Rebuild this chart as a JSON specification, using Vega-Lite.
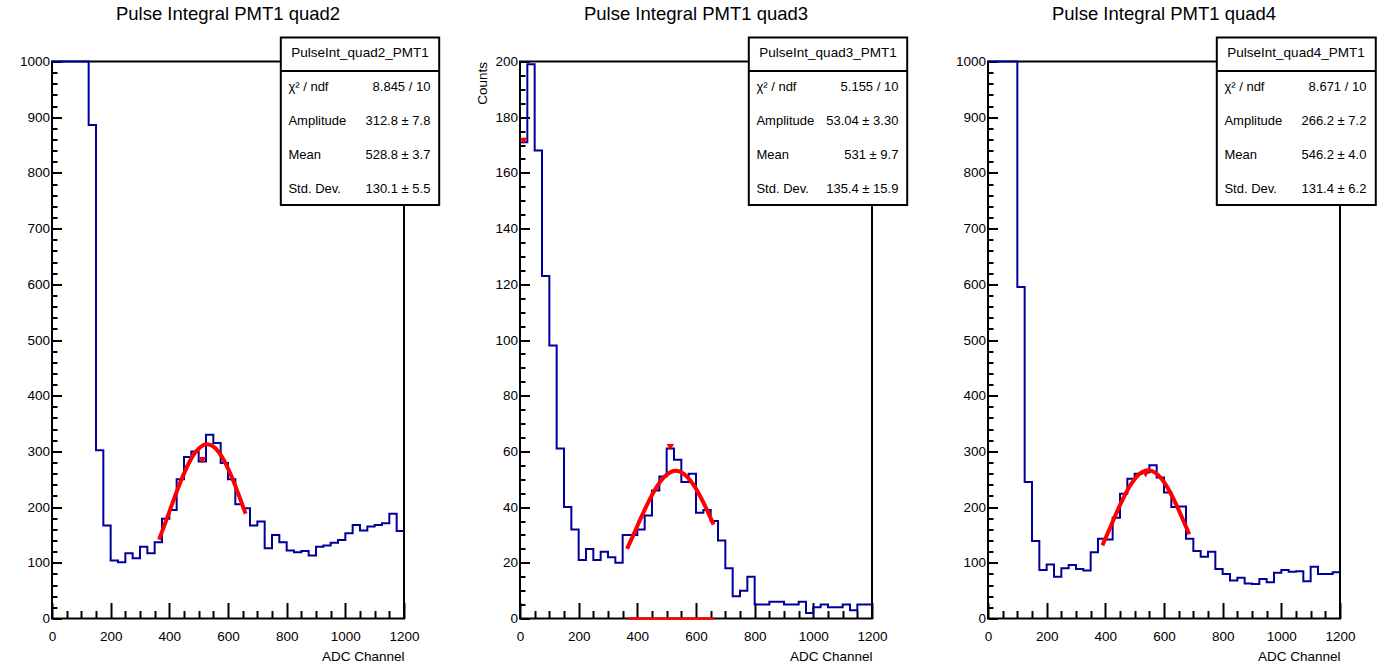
{
  "$schema": "https://vega.github.io/schema/vega-lite/v6.json",
  "background": "white",
  "padding": {"left": 18, "top": 3.5, "right": 4, "bottom": 0},
  "bounds": "flush",
  "spacing": 116,
  "config": {
    "font": "Liberation Sans",
    "view": {"stroke": "black", "strokeWidth": 2},
    "axis": {"domain": false, "grid": false, "labelColor": "black", "labelFont": "Liberation Sans", "labelFontSize": 13.5, "titleColor": "black", "titleFont": "Liberation Sans", "titleFontSize": 13.5, "titleFontWeight": "normal", "tickColor": "black", "tickWidth": 2, "zindex": 1, "labelFlush": false, "labelOverlap": false, "format": "d"},
    "title": {"font": "Liberation Sans", "fontSize": 18.5, "fontWeight": "normal", "color": "black", "baseline": "alphabetic", "offset": 13.3}
  },
  "datasets": {
    "h2": [
      {"lo":0,"hi":25,"n":1000},{"lo":25,"hi":50,"n":1000},{"lo":50,"hi":75,"n":1000},{"lo":75,"hi":100,"n":1000},{"lo":100,"hi":125,"n":1000},{"lo":125,"hi":150,"n":886},{"lo":150,"hi":175,"n":302},{"lo":175,"hi":200,"n":167},{"lo":200,"hi":225,"n":104},{"lo":225,"hi":250,"n":101},{"lo":250,"hi":275,"n":117},{"lo":275,"hi":300,"n":108},{"lo":300,"hi":325,"n":129},{"lo":325,"hi":350,"n":117},{"lo":350,"hi":375,"n":137},{"lo":375,"hi":400,"n":179},{"lo":400,"hi":425,"n":195},{"lo":425,"hi":450,"n":250},{"lo":450,"hi":475,"n":290},{"lo":475,"hi":500,"n":300},{"lo":500,"hi":525,"n":282},{"lo":525,"hi":550,"n":330},{"lo":550,"hi":575,"n":315},{"lo":575,"hi":600,"n":279},{"lo":600,"hi":625,"n":250},{"lo":625,"hi":650,"n":205},{"lo":650,"hi":675,"n":198},{"lo":675,"hi":700,"n":167},{"lo":700,"hi":725,"n":174},{"lo":725,"hi":750,"n":126},{"lo":750,"hi":775,"n":150},{"lo":775,"hi":800,"n":137},{"lo":800,"hi":825,"n":122},{"lo":825,"hi":850,"n":119},{"lo":850,"hi":875,"n":121},{"lo":875,"hi":900,"n":113},{"lo":900,"hi":925,"n":129},{"lo":925,"hi":950,"n":131},{"lo":950,"hi":975,"n":136},{"lo":975,"hi":1000,"n":141},{"lo":1000,"hi":1025,"n":153},{"lo":1025,"hi":1050,"n":168},{"lo":1050,"hi":1075,"n":158},{"lo":1075,"hi":1100,"n":165},{"lo":1100,"hi":1125,"n":168},{"lo":1125,"hi":1150,"n":171},{"lo":1150,"hi":1175,"n":188},{"lo":1175,"hi":1200,"n":157}
    ],
    "h3": [
      {"lo":0,"hi":25,"n":171},{"lo":25,"hi":50,"n":199},{"lo":50,"hi":75,"n":168},{"lo":75,"hi":100,"n":123},{"lo":100,"hi":125,"n":98},{"lo":125,"hi":150,"n":61},{"lo":150,"hi":175,"n":40},{"lo":175,"hi":200,"n":32},{"lo":200,"hi":225,"n":21},{"lo":225,"hi":250,"n":25},{"lo":250,"hi":275,"n":21},{"lo":275,"hi":300,"n":24},{"lo":300,"hi":325,"n":22},{"lo":325,"hi":350,"n":20},{"lo":350,"hi":375,"n":30},{"lo":375,"hi":400,"n":30},{"lo":400,"hi":425,"n":32},{"lo":425,"hi":450,"n":37},{"lo":450,"hi":475,"n":46},{"lo":475,"hi":500,"n":51},{"lo":500,"hi":525,"n":61},{"lo":525,"hi":550,"n":57},{"lo":550,"hi":575,"n":49},{"lo":575,"hi":600,"n":52},{"lo":600,"hi":625,"n":38},{"lo":625,"hi":650,"n":39},{"lo":650,"hi":675,"n":35},{"lo":675,"hi":700,"n":28},{"lo":700,"hi":725,"n":18},{"lo":725,"hi":750,"n":8},{"lo":750,"hi":775,"n":10},{"lo":775,"hi":800,"n":15},{"lo":800,"hi":825,"n":5},{"lo":825,"hi":850,"n":5},{"lo":850,"hi":875,"n":6},{"lo":875,"hi":900,"n":6},{"lo":900,"hi":925,"n":5},{"lo":925,"hi":950,"n":5},{"lo":950,"hi":975,"n":6},{"lo":975,"hi":1000,"n":2},{"lo":1000,"hi":1025,"n":4},{"lo":1025,"hi":1050,"n":5},{"lo":1050,"hi":1075,"n":4},{"lo":1075,"hi":1100,"n":4},{"lo":1100,"hi":1125,"n":5},{"lo":1125,"hi":1150,"n":3},{"lo":1150,"hi":1175,"n":5},{"lo":1175,"hi":1200,"n":5}
    ],
    "h4": [
      {"lo":0,"hi":25,"n":1000},{"lo":25,"hi":50,"n":1000},{"lo":50,"hi":75,"n":1000},{"lo":75,"hi":100,"n":1000},{"lo":100,"hi":125,"n":595},{"lo":125,"hi":150,"n":245},{"lo":150,"hi":175,"n":139},{"lo":175,"hi":200,"n":87},{"lo":200,"hi":225,"n":97},{"lo":225,"hi":250,"n":75},{"lo":250,"hi":275,"n":90},{"lo":275,"hi":300,"n":96},{"lo":300,"hi":325,"n":89},{"lo":325,"hi":350,"n":86},{"lo":350,"hi":375,"n":119},{"lo":375,"hi":400,"n":143},{"lo":400,"hi":425,"n":142},{"lo":425,"hi":450,"n":181},{"lo":450,"hi":475,"n":224},{"lo":475,"hi":500,"n":251},{"lo":500,"hi":525,"n":260},{"lo":525,"hi":550,"n":262},{"lo":550,"hi":575,"n":275},{"lo":575,"hi":600,"n":253},{"lo":600,"hi":625,"n":226},{"lo":625,"hi":650,"n":200},{"lo":650,"hi":675,"n":201},{"lo":675,"hi":700,"n":143},{"lo":700,"hi":725,"n":121},{"lo":725,"hi":750,"n":111},{"lo":750,"hi":775,"n":120},{"lo":775,"hi":800,"n":89},{"lo":800,"hi":825,"n":80},{"lo":825,"hi":850,"n":68},{"lo":850,"hi":875,"n":73},{"lo":875,"hi":900,"n":63},{"lo":900,"hi":925,"n":62},{"lo":925,"hi":950,"n":71},{"lo":950,"hi":975,"n":65},{"lo":975,"hi":1000,"n":82},{"lo":1000,"hi":1025,"n":87},{"lo":1025,"hi":1050,"n":84},{"lo":1050,"hi":1075,"n":85},{"lo":1075,"hi":1100,"n":67},{"lo":1100,"hi":1125,"n":93},{"lo":1125,"hi":1150,"n":80},{"lo":1150,"hi":1175,"n":80},{"lo":1175,"hi":1200,"n":83}
    ],
    "f2": [
      {"x":365,"f":141.6},{"x":390,"f":177.0},{"x":415,"f":213.4},{"x":440,"f":247.8},{"x":465,"f":277.4},{"x":490,"f":299.2},{"x":515,"f":311.0},{"x":529,"f":312.8},{"x":545,"f":310.4},{"x":570,"f":297.5},{"x":595,"f":274.8},{"x":620,"f":244.7},{"x":645,"f":209.9},{"x":660,"f":188.1}
    ],
    "f3": [
      {"x":365,"f":25.02},{"x":390,"f":30.84},{"x":415,"f":36.75},{"x":440,"f":42.32},{"x":465,"f":47.10},{"x":490,"f":50.67},{"x":515,"f":52.67},{"x":531,"f":53.04},{"x":545,"f":52.76},{"x":570,"f":50.88},{"x":595,"f":47.44},{"x":620,"f":42.73},{"x":645,"f":37.21},{"x":660,"f":33.69}
    ],
    "f4": [
      {"x":390,"f":131.3},{"x":415,"f":161.7},{"x":440,"f":192.0},{"x":465,"f":219.9},{"x":490,"f":242.9},{"x":515,"f":258.8},{"x":546,"f":266.2},{"x":570,"f":261.9},{"x":595,"f":248.5},{"x":620,"f":227.4},{"x":645,"f":200.7},{"x":670,"f":170.8},{"x":686,"f":151.2}
    ],
    "m2": [{"x":512.5,"y":284}],
    "m3": [{"x":512.5,"y":61.5},{"x":12.5,"y":171.5}],
    "m4": [{"x":537.5,"y":259}],
    "s2": [
      {"k":"Name","v":"PulseInt_quad2_PMT1"},{"k":"χ² / ndf","v":"8.845 / 10"},{"k":"Amplitude","v":"312.8 ± 7.8"},{"k":"Mean","v":"528.8 ± 3.7"},{"k":"Std. Dev.","v":"130.1 ± 5.5"}
    ],
    "s3": [
      {"k":"Name","v":"PulseInt_quad3_PMT1"},{"k":"χ² / ndf","v":"5.155 / 10"},{"k":"Amplitude","v":"53.04 ± 3.30"},{"k":"Mean","v":"531 ± 9.7"},{"k":"Std. Dev.","v":"135.4 ± 15.9"}
    ],
    "s4": [
      {"k":"Name","v":"PulseInt_quad4_PMT1"},{"k":"χ² / ndf","v":"8.671 / 10"},{"k":"Amplitude","v":"266.2 ± 7.2"},{"k":"Mean","v":"546.2 ± 4.0"},{"k":"Std. Dev.","v":"131.4 ± 6.2"}
    ],
    "one": [{}]
  },
  "hconcat": [
    {
      "width": 352, "height": 557,
      "title": {"text": "Pulse Integral PMT1 quad2"},
      "resolve": {"scale": {"y": "independent"}},
      "layer": [
        {
          "resolve": {"axis": {"x": "independent", "y": "independent"}},
          "layer": [
            {
              "data": {"name": "h2"},
              "transform": [{"fold": ["lo", "hi"], "as": ["edge", "xv"]}],
              "mark": {"type": "line", "color": "#000099", "strokeWidth": 2},
              "encoding": {
                "x": {"field": "xv", "type": "quantitative", "scale": {"domain": [0, 1200]}, "axis": {"orient": "bottom", "values": [0, 200, 400, 600, 800, 1000, 1200], "tickSize": -16, "labelPadding": 27, "title": "ADC Channel", "titleAnchor": "end", "titlePadding": 6}},
                "y": {"field": "n", "type": "quantitative", "scale": {"domain": [0, 1000]}, "axis": {"orient": "left", "values": [0, 100, 200, 300, 400, 500, 600, 700, 800, 900, 1000], "tickSize": -9.5, "labelPadding": 12, "title": null}},
                "order": [{"field": "xv", "type": "quantitative"}, {"field": "edge", "type": "ordinal"}]
              }
            },
            {
              "data": {"name": "f2"},
              "mark": {"type": "line", "color": "#ff0000", "strokeWidth": 4, "interpolate": "monotone"},
              "encoding": {
                "x": {"field": "x", "type": "quantitative", "scale": {"domain": [0, 1200]}, "axis": {"orient": "bottom", "values": [50, 100, 150, 250, 300, 350, 450, 500, 550, 650, 700, 750, 850, 900, 950, 1050, 1100, 1150], "tickSize": -8, "labels": false, "title": null}},
                "y": {"field": "f", "type": "quantitative", "scale": {"domain": [0, 1000]}, "axis": {"orient": "left", "values": [20, 40, 60, 80, 120, 140, 160, 180, 220, 240, 260, 280, 320, 340, 360, 380, 420, 440, 460, 480, 520, 540, 560, 580, 620, 640, 660, 680, 720, 740, 760, 780, 820, 840, 860, 880, 920, 940, 960, 980], "tickSize": -5, "labels": false, "title": null}}
              }
            },
            {
              "data": {"name": "m2"},
              "mark": {"type": "point", "shape": "triangle-down", "filled": true, "color": "#ff0000", "size": 55, "opacity": 1},
              "encoding": {
                "x": {"field": "x", "type": "quantitative", "scale": {"domain": [0, 1200]}, "axis": null},
                "y": {"field": "y", "type": "quantitative", "scale": {"domain": [0, 1000]}, "axis": null}
              }
            },
            {
              "data": {"name": "one"},
              "mark": {"type": "rect", "fill": "white", "stroke": "black", "strokeWidth": 2},
              "encoding": {
                "x": {"datum": 780, "type": "quantitative", "scale": {"domain": [0, 1200]}, "axis": null},
                "x2": {"datum": 1320},
                "y": {"datum": 742.5, "type": "quantitative", "scale": {"domain": [0, 1000]}, "axis": null},
                "y2": {"datum": 1043.1}
              }
            },
            {
              "data": {"name": "one"},
              "mark": {"type": "rule", "color": "black", "strokeWidth": 2},
              "encoding": {
                "x": {"datum": 780, "type": "quantitative", "scale": {"domain": [0, 1200]}, "axis": null},
                "x2": {"datum": 1320},
                "y": {"datum": 983.1, "type": "quantitative", "scale": {"domain": [0, 1000]}, "axis": null}
              }
            }
          ]
        },
        {
          "data": {"name": "s2"},
          "layer": [
            {
              "transform": [{"filter": "datum.k !== 'Name'"}],
              "mark": {"type": "text", "align": "left", "baseline": "middle", "fontSize": 13, "color": "black"},
              "encoding": {
                "x": {"datum": 806, "type": "quantitative", "scale": {"domain": [0, 1200]}, "axis": null},
                "y": {"field": "k", "type": "ordinal", "scale": {"type": "point", "domain": ["Name", "χ² / ndf", "Amplitude", "Mean", "Std. Dev."], "range": [-8.4, 127.3], "padding": 0}, "axis": null},
                "text": {"field": "k"}
              }
            },
            {
              "transform": [{"filter": "datum.k !== 'Name'"}],
              "mark": {"type": "text", "align": "right", "baseline": "middle", "fontSize": 13, "color": "black"},
              "encoding": {
                "x": {"datum": 1290, "type": "quantitative", "scale": {"domain": [0, 1200]}, "axis": null},
                "y": {"field": "k", "type": "ordinal", "axis": null},
                "text": {"field": "v"}
              }
            },
            {
              "transform": [{"filter": "datum.k === 'Name'"}],
              "mark": {"type": "text", "align": "center", "baseline": "middle", "fontSize": 13.5, "color": "black"},
              "encoding": {
                "x": {"datum": 1050, "type": "quantitative", "scale": {"domain": [0, 1200]}, "axis": null},
                "y": {"field": "k", "type": "ordinal", "axis": null},
                "text": {"field": "v"}
              }
            }
          ]
        }
      ]
    },
    {
      "width": 352, "height": 557,
      "title": {"text": "Pulse Integral PMT1 quad3"},
      "resolve": {"scale": {"y": "independent"}},
      "layer": [
        {
          "resolve": {"axis": {"x": "independent", "y": "independent"}},
          "layer": [
            {
              "data": {"name": "h3"},
              "transform": [{"fold": ["lo", "hi"], "as": ["edge", "xv"]}],
              "mark": {"type": "line", "color": "#000099", "strokeWidth": 2},
              "encoding": {
                "x": {"field": "xv", "type": "quantitative", "scale": {"domain": [0, 1200]}, "axis": {"orient": "bottom", "values": [0, 200, 400, 600, 800, 1000, 1200], "tickSize": -16, "labelPadding": 27, "title": "ADC Channel", "titleAnchor": "end", "titlePadding": 6}},
                "y": {"field": "n", "type": "quantitative", "scale": {"domain": [0, 200]}, "axis": {"orient": "left", "values": [0, 20, 40, 60, 80, 100, 120, 140, 160, 180, 200], "tickSize": -9.5, "labelPadding": 12, "title": "Counts", "titleAnchor": "end", "titlePadding": 5}},
                "order": [{"field": "xv", "type": "quantitative"}, {"field": "edge", "type": "ordinal"}]
              }
            },
            {
              "data": {"name": "f3"},
              "mark": {"type": "line", "color": "#ff0000", "strokeWidth": 4, "interpolate": "monotone"},
              "encoding": {
                "x": {"field": "x", "type": "quantitative", "scale": {"domain": [0, 1200]}, "axis": {"orient": "bottom", "values": [50, 100, 150, 250, 300, 350, 450, 500, 550, 650, 700, 750, 850, 900, 950, 1050, 1100, 1150], "tickSize": -8, "labels": false, "title": null}},
                "y": {"field": "f", "type": "quantitative", "scale": {"domain": [0, 200]}, "axis": {"orient": "left", "values": [5, 10, 15, 25, 30, 35, 45, 50, 55, 65, 70, 75, 85, 90, 95, 105, 110, 115, 125, 130, 135, 145, 150, 155, 165, 170, 175, 185, 190, 195], "tickSize": -5, "labels": false, "title": null}}
              }
            },
            {
              "data": {"name": "one"},
              "mark": {"type": "rule", "color": "#ff0000", "strokeWidth": 2.5},
              "encoding": {
                "x": {"datum": 369, "type": "quantitative", "scale": {"domain": [0, 1200]}, "axis": null},
                "x2": {"datum": 661},
                "y": {"datum": 0, "type": "quantitative", "scale": {"domain": [0, 200]}, "axis": null}
              }
            },
            {
              "data": {"name": "m3"},
              "mark": {"type": "point", "shape": "triangle-down", "filled": true, "color": "#ff0000", "size": 55, "opacity": 1},
              "encoding": {
                "x": {"field": "x", "type": "quantitative", "scale": {"domain": [0, 1200]}, "axis": null},
                "y": {"field": "y", "type": "quantitative", "scale": {"domain": [0, 200]}, "axis": null}
              }
            },
            {
              "data": {"name": "one"},
              "mark": {"type": "rect", "fill": "white", "stroke": "black", "strokeWidth": 2},
              "encoding": {
                "x": {"datum": 780, "type": "quantitative", "scale": {"domain": [0, 1200]}, "axis": null},
                "x2": {"datum": 1320},
                "y": {"datum": 148.5, "type": "quantitative", "scale": {"domain": [0, 200]}, "axis": null},
                "y2": {"datum": 208.6}
              }
            },
            {
              "data": {"name": "one"},
              "mark": {"type": "rule", "color": "black", "strokeWidth": 2},
              "encoding": {
                "x": {"datum": 780, "type": "quantitative", "scale": {"domain": [0, 1200]}, "axis": null},
                "x2": {"datum": 1320},
                "y": {"datum": 196.6, "type": "quantitative", "scale": {"domain": [0, 200]}, "axis": null}
              }
            }
          ]
        },
        {
          "data": {"name": "s3"},
          "layer": [
            {
              "transform": [{"filter": "datum.k !== 'Name'"}],
              "mark": {"type": "text", "align": "left", "baseline": "middle", "fontSize": 13, "color": "black"},
              "encoding": {
                "x": {"datum": 806, "type": "quantitative", "scale": {"domain": [0, 1200]}, "axis": null},
                "y": {"field": "k", "type": "ordinal", "scale": {"type": "point", "domain": ["Name", "χ² / ndf", "Amplitude", "Mean", "Std. Dev."], "range": [-8.4, 127.3], "padding": 0}, "axis": null},
                "text": {"field": "k"}
              }
            },
            {
              "transform": [{"filter": "datum.k !== 'Name'"}],
              "mark": {"type": "text", "align": "right", "baseline": "middle", "fontSize": 13, "color": "black"},
              "encoding": {
                "x": {"datum": 1290, "type": "quantitative", "scale": {"domain": [0, 1200]}, "axis": null},
                "y": {"field": "k", "type": "ordinal", "axis": null},
                "text": {"field": "v"}
              }
            },
            {
              "transform": [{"filter": "datum.k === 'Name'"}],
              "mark": {"type": "text", "align": "center", "baseline": "middle", "fontSize": 13.5, "color": "black"},
              "encoding": {
                "x": {"datum": 1050, "type": "quantitative", "scale": {"domain": [0, 1200]}, "axis": null},
                "y": {"field": "k", "type": "ordinal", "axis": null},
                "text": {"field": "v"}
              }
            }
          ]
        }
      ]
    },
    {
      "width": 352, "height": 557,
      "title": {"text": "Pulse Integral PMT1 quad4"},
      "resolve": {"scale": {"y": "independent"}},
      "layer": [
        {
          "resolve": {"axis": {"x": "independent", "y": "independent"}},
          "layer": [
            {
              "data": {"name": "h4"},
              "transform": [{"fold": ["lo", "hi"], "as": ["edge", "xv"]}],
              "mark": {"type": "line", "color": "#000099", "strokeWidth": 2},
              "encoding": {
                "x": {"field": "xv", "type": "quantitative", "scale": {"domain": [0, 1200]}, "axis": {"orient": "bottom", "values": [0, 200, 400, 600, 800, 1000, 1200], "tickSize": -16, "labelPadding": 27, "title": "ADC Channel", "titleAnchor": "end", "titlePadding": 6}},
                "y": {"field": "n", "type": "quantitative", "scale": {"domain": [0, 1000]}, "axis": {"orient": "left", "values": [0, 100, 200, 300, 400, 500, 600, 700, 800, 900, 1000], "tickSize": -9.5, "labelPadding": 12, "title": null}},
                "order": [{"field": "xv", "type": "quantitative"}, {"field": "edge", "type": "ordinal"}]
              }
            },
            {
              "data": {"name": "f4"},
              "mark": {"type": "line", "color": "#ff0000", "strokeWidth": 4, "interpolate": "monotone"},
              "encoding": {
                "x": {"field": "x", "type": "quantitative", "scale": {"domain": [0, 1200]}, "axis": {"orient": "bottom", "values": [50, 100, 150, 250, 300, 350, 450, 500, 550, 650, 700, 750, 850, 900, 950, 1050, 1100, 1150], "tickSize": -8, "labels": false, "title": null}},
                "y": {"field": "f", "type": "quantitative", "scale": {"domain": [0, 1000]}, "axis": {"orient": "left", "values": [20, 40, 60, 80, 120, 140, 160, 180, 220, 240, 260, 280, 320, 340, 360, 380, 420, 440, 460, 480, 520, 540, 560, 580, 620, 640, 660, 680, 720, 740, 760, 780, 820, 840, 860, 880, 920, 940, 960, 980], "tickSize": -5, "labels": false, "title": null}}
              }
            },
            {
              "data": {"name": "m4"},
              "mark": {"type": "point", "shape": "triangle-down", "filled": true, "color": "#ff0000", "size": 55, "opacity": 1},
              "encoding": {
                "x": {"field": "x", "type": "quantitative", "scale": {"domain": [0, 1200]}, "axis": null},
                "y": {"field": "y", "type": "quantitative", "scale": {"domain": [0, 1000]}, "axis": null}
              }
            },
            {
              "data": {"name": "one"},
              "mark": {"type": "rect", "fill": "white", "stroke": "black", "strokeWidth": 2},
              "encoding": {
                "x": {"datum": 780, "type": "quantitative", "scale": {"domain": [0, 1200]}, "axis": null},
                "x2": {"datum": 1322},
                "y": {"datum": 742.5, "type": "quantitative", "scale": {"domain": [0, 1000]}, "axis": null},
                "y2": {"datum": 1043.1}
              }
            },
            {
              "data": {"name": "one"},
              "mark": {"type": "rule", "color": "black", "strokeWidth": 2},
              "encoding": {
                "x": {"datum": 780, "type": "quantitative", "scale": {"domain": [0, 1200]}, "axis": null},
                "x2": {"datum": 1322},
                "y": {"datum": 983.1, "type": "quantitative", "scale": {"domain": [0, 1000]}, "axis": null}
              }
            }
          ]
        },
        {
          "data": {"name": "s4"},
          "layer": [
            {
              "transform": [{"filter": "datum.k !== 'Name'"}],
              "mark": {"type": "text", "align": "left", "baseline": "middle", "fontSize": 13, "color": "black"},
              "encoding": {
                "x": {"datum": 806, "type": "quantitative", "scale": {"domain": [0, 1200]}, "axis": null},
                "y": {"field": "k", "type": "ordinal", "scale": {"type": "point", "domain": ["Name", "χ² / ndf", "Amplitude", "Mean", "Std. Dev."], "range": [-8.4, 127.3], "padding": 0}, "axis": null},
                "text": {"field": "k"}
              }
            },
            {
              "transform": [{"filter": "datum.k !== 'Name'"}],
              "mark": {"type": "text", "align": "right", "baseline": "middle", "fontSize": 13, "color": "black"},
              "encoding": {
                "x": {"datum": 1290, "type": "quantitative", "scale": {"domain": [0, 1200]}, "axis": null},
                "y": {"field": "k", "type": "ordinal", "axis": null},
                "text": {"field": "v"}
              }
            },
            {
              "transform": [{"filter": "datum.k === 'Name'"}],
              "mark": {"type": "text", "align": "center", "baseline": "middle", "fontSize": 13.5, "color": "black"},
              "encoding": {
                "x": {"datum": 1050, "type": "quantitative", "scale": {"domain": [0, 1200]}, "axis": null},
                "y": {"field": "k", "type": "ordinal", "axis": null},
                "text": {"field": "v"}
              }
            }
          ]
        }
      ]
    }
  ]
}
